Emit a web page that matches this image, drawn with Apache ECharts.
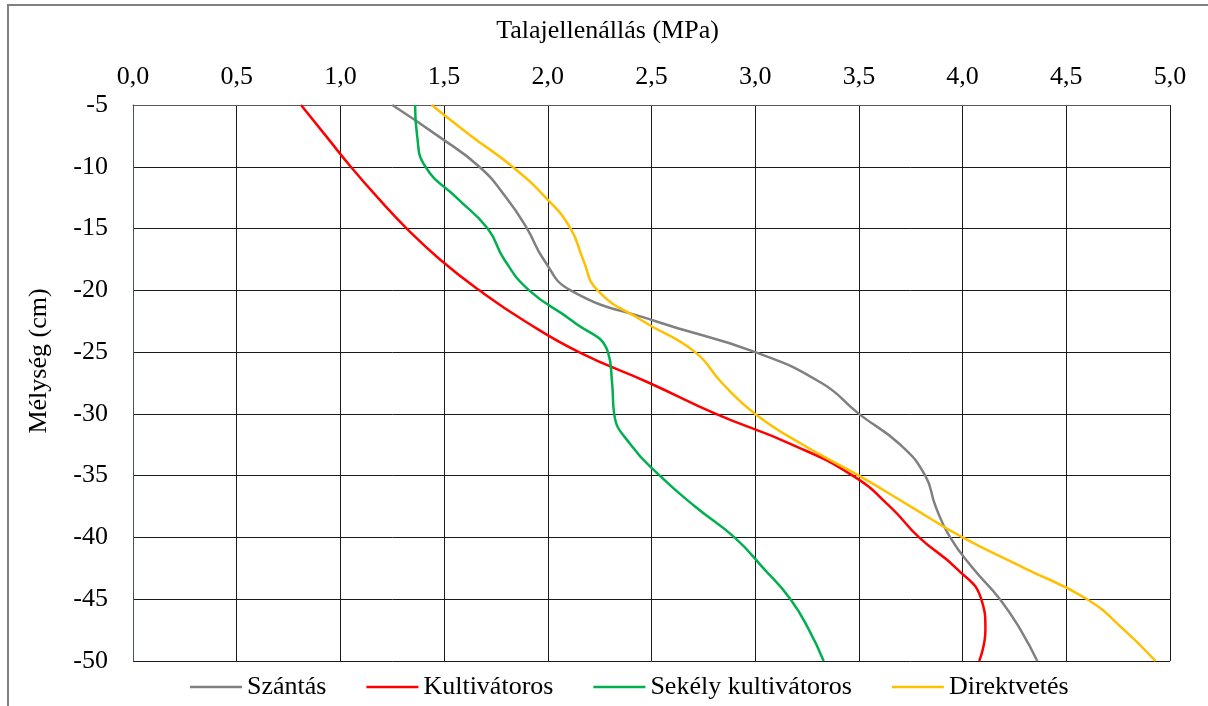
<!DOCTYPE html>
<html><head><meta charset="utf-8">
<script src="https://cdn.jsdelivr.net/npm/echarts@6/dist/echarts.min.js"></script>
<style>html,body{margin:0;padding:0;background:#fff}#c{width:1208px;height:706px}</style>
</head><body><div id="c"></div>
<script>
const depths = [-5,-7.5,-10,-12.5,-15,-17.5,-20,-22.5,-25,-27.5,-30,-32.5,-35,-37.5,-40,-42.5,-45,-47.5,-50];
const szantas = [1.25,1.47,1.67,1.80,1.90,1.98,2.11,2.52,3.00,3.32,3.50,3.70,3.82,3.87,3.94,4.05,4.18,4.28,4.36];
const kultivatoros = [0.81,0.93,1.05,1.18,1.32,1.48,1.67,1.89,2.15,2.49,2.81,3.18,3.47,3.65,3.79,3.97,4.09,4.11,4.08];
const sekely = [1.36,1.37,1.41,1.56,1.71,1.79,1.91,2.12,2.29,2.31,2.32,2.40,2.54,2.71,2.90,3.04,3.17,3.26,3.33];
const direkt = [1.44,1.63,1.83,1.99,2.11,2.17,2.24,2.46,2.71,2.84,3.00,3.23,3.50,3.75,4.00,4.30,4.60,4.78,4.93];
const seriesNames = ['Szántás','Kultivátoros','Sekély kultivátoros','Direktvetés'];
const colors = ['#808080','#ff0000','#00b050','#ffc000'];

const font = 'Liberation Serif';
const fs = 26;
const chart = echarts.init(document.getElementById('c'), null, {renderer:'canvas'});
const allX = [szantas, kultivatoros, sekely, direkt];
chart.setOption({
  animation:false,
  color: colors,
  textStyle:{fontFamily:font},
  graphic:[{type:'rect',shape:{x:8,y:5,width:1300,height:800},style:{fill:'none',stroke:'#808080',lineWidth:2},z:-1}],
  grid:{left:133,top:105,right:38,bottom:45},
  legend:{
    top:674,left:190,padding:0,
    icon:'rect',itemWidth:52,itemHeight:2.5,itemGap:40,
    textStyle:{fontFamily:font,fontSize:fs,color:'#000'},
    data:seriesNames
  },
  xAxis:{
    type:'value',position:'top',min:0,max:5,interval:0.5,
    name:'Talajellenállás (MPa)',nameLocation:'middle',nameGap:61,
    nameTextStyle:{fontFamily:font,fontSize:fs,color:'#000',padding:[0,88,0,0]},
    axisLine:{show:true,lineStyle:{color:'#595959'}},
    axisTick:{show:false},
    axisLabel:{fontFamily:font,fontSize:fs,color:'#000',margin:15,formatter:v=>v.toFixed(1).replace('.',',')},
    splitLine:{show:true,lineStyle:{color:'#1a1a1a',width:1}}
  },
  yAxis:{
    type:'value',min:-50,max:-5,interval:5,
    name:'Mélység (cm)',nameLocation:'middle',nameGap:81,nameRotate:90,
    nameTextStyle:{fontFamily:font,fontSize:fs,color:'#000',padding:[0,0,0,44]},
    axisLine:{show:true,lineStyle:{color:'#44546a'}},
    axisTick:{show:false},
    axisLabel:{fontFamily:font,fontSize:fs,color:'#000',margin:25},
    splitLine:{show:true,lineStyle:{color:'#1a1a1a',width:1}}
  },
  series: seriesNames.map((n,i)=>({
    name:n,type:'line',smooth:0.5,showSymbol:false,symbol:'none',
    lineStyle:{width:2.5,color:colors[i]},
    data: depths.map((d,j)=>[allX[i][j], d])
  }))
});
</script></body></html>
